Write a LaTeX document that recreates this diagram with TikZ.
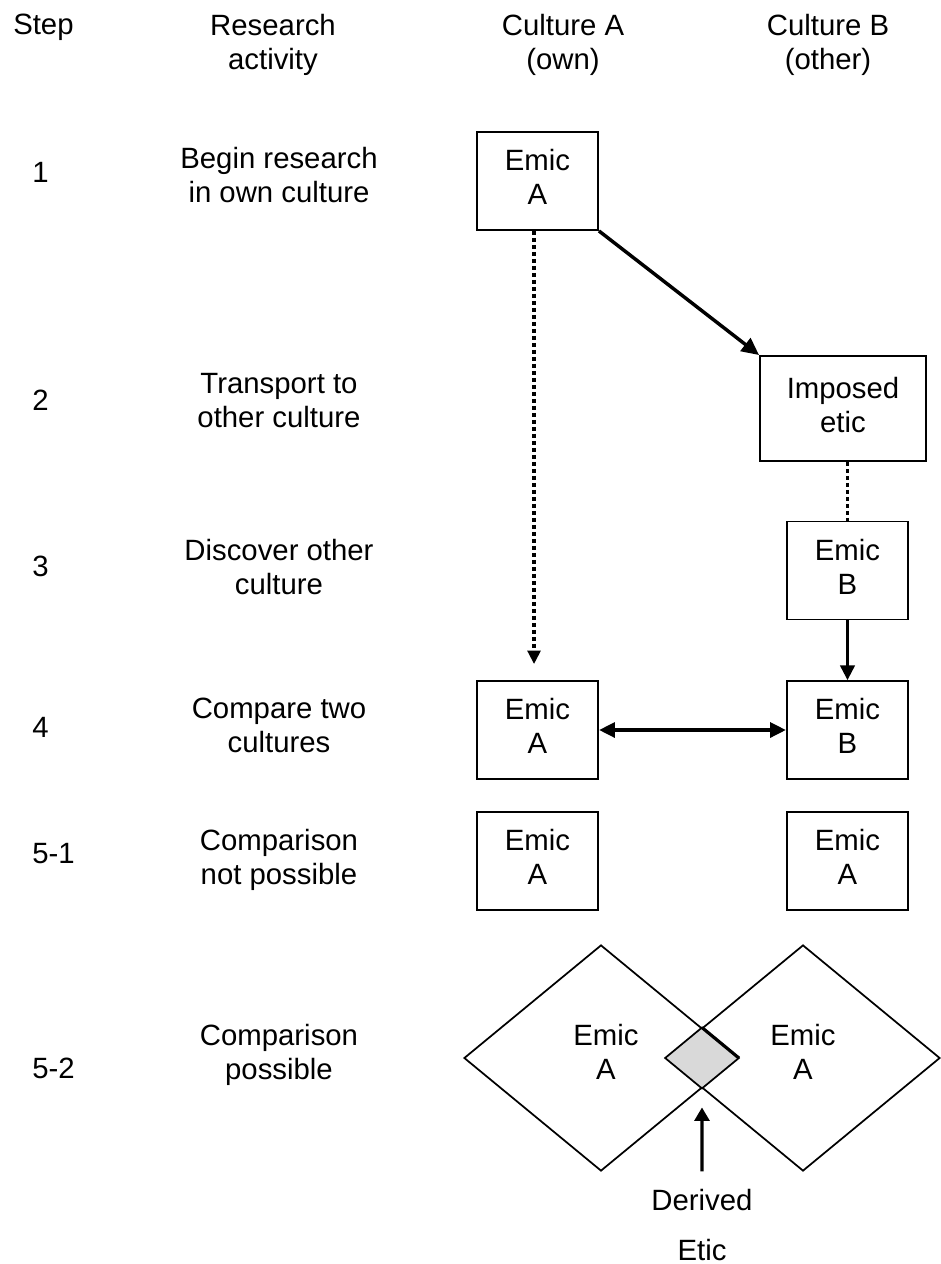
\documentclass[tikz,border=0pt]{standalone}
\usepackage{fontspec}
\setmainfont{Liberation Sans}
\usetikzlibrary{arrows.meta,shapes.geometric}
\newcommand{\twoline}[2]{\begin{tabular}{@{}c@{}}#1\\#2\end{tabular}}
\begin{document}
\begin{tikzpicture}[x=0.75pt,y=-0.75pt,
  every node/.style={font={\fontsize{22}{25.5}\selectfont}, inner sep=0pt},
  box/.style={draw, line width=1.4pt, minimum width=90.75pt, minimum height=73.5pt},
  dia/.style={draw, diamond, line width=1.3pt, minimum width=205.5pt, minimum height=169.5pt},
  dotline/.style={line width=2.4pt, dash pattern=on 3pt off 2.25pt},
  tipsmall/.style={-{Triangle[length=10pt,width=9.5pt]}},
  tipbig/.style={-{Triangle[length=13pt,width=12pt]}}]
\useasboundingbox (0,0) rectangle (940,1264);

% headers
\node[anchor=base west] (hstep) at (13,34) {Step};
\node (hres) at (273,45.2) {\twoline{Research}{activity}};
\node (hA) at (563,45.2) {\twoline{Culture A}{(own)}};
\node (hB) at (828,45.2) {\twoline{Culture B}{(other)}};

% step numbers
\node[anchor=base west] (n1) at (32,182) {1};
\node[anchor=base west] (n2) at (32,410) {2};
\node[anchor=base west] (n3) at (32,576) {3};
\node[anchor=base west] (n4) at (32,737) {4};
\node[anchor=base west] (n51) at (32,863) {5-1};
\node[anchor=base west] (n52) at (32,1078) {5-2};

% activities
\node (a1) at (279,178.2) {\twoline{Begin research}{in own culture}};
\node (a2) at (279,403.2) {\twoline{Transport to}{other culture}};
\node (a3) at (279,570.2) {\twoline{Discover other}{culture}};
\node (a4) at (279,728.2) {\twoline{Compare two}{cultures}};
\node (a51) at (279,860.2) {\twoline{Comparison}{not possible}};
\node (a52) at (279,1055.2) {\twoline{Comparison}{possible}};

% boxes
\node[box] (b1) at (537.5,181) {\twoline{Emic}{A}};
\node[box, minimum width=124.5pt, minimum height=78.75pt] (imp) at (843,408.5) {\twoline{Imposed}{etic}};
\node[box] (b3) at (847.5,570.5) {\twoline{Emic}{B}};
\node[box] (b4a) at (537.5,730) {\twoline{Emic}{A}};
\node[box] (b4b) at (847.5,730) {\twoline{Emic}{B}};
\node[box] (b5a) at (537.5,861) {\twoline{Emic}{A}};
\node[box] (b5b) at (847.5,861) {\twoline{Emic}{A}};

% diamonds
\node[dia] (dL) at (601,1058) {};
\node[dia] (dR) at (803,1058) {};
\coordinate (xt) at (intersection of dL.north--dL.east and dR.north--dR.west);
\coordinate (xb) at (intersection of dL.south--dL.east and dR.south--dR.west);
\filldraw[fill=black!15, draw=black, line width=1.3pt] (xt) -- (dL.east) -- (xb) -- (dR.west) -- cycle;
\draw[line width=2.4pt] (xt) -- (dL.east);
\node (tL) at (606,1055.2) {\twoline{Emic}{A}};
\node (tR) at (803,1055.2) {\twoline{Emic}{A}};

\node[anchor=base] (der) at (702,1210) {Derived};
\node[anchor=base] (etic) at (702,1260) {Etic};

% connectors
\draw[dotline, tipsmall, shorten >=12pt] ([xshift=-2.6pt]b1.south) -- ([xshift=-2.6pt]b4a.north);
\draw[line width=2.6pt, tipbig] (b1.south east) -- (imp.north west);
\draw[dotline] (imp.south -| b3.north) -- (b3.north);
\draw[line width=1.6pt, -{Triangle[length=11pt,width=11pt]}] (b3.south) -- (b4b.north);
\draw[line width=3pt, {Triangle[length=12pt,width=11pt]}-{Triangle[length=12pt,width=11pt]}] (b4a.east) -- (b4b.west);
\draw[line width=2.6pt, -{Triangle[length=10pt,width=11pt]}, shorten <=12.75pt, shorten >=14.25pt] (der.north) -- (xb);
\end{tikzpicture}
\end{document}
